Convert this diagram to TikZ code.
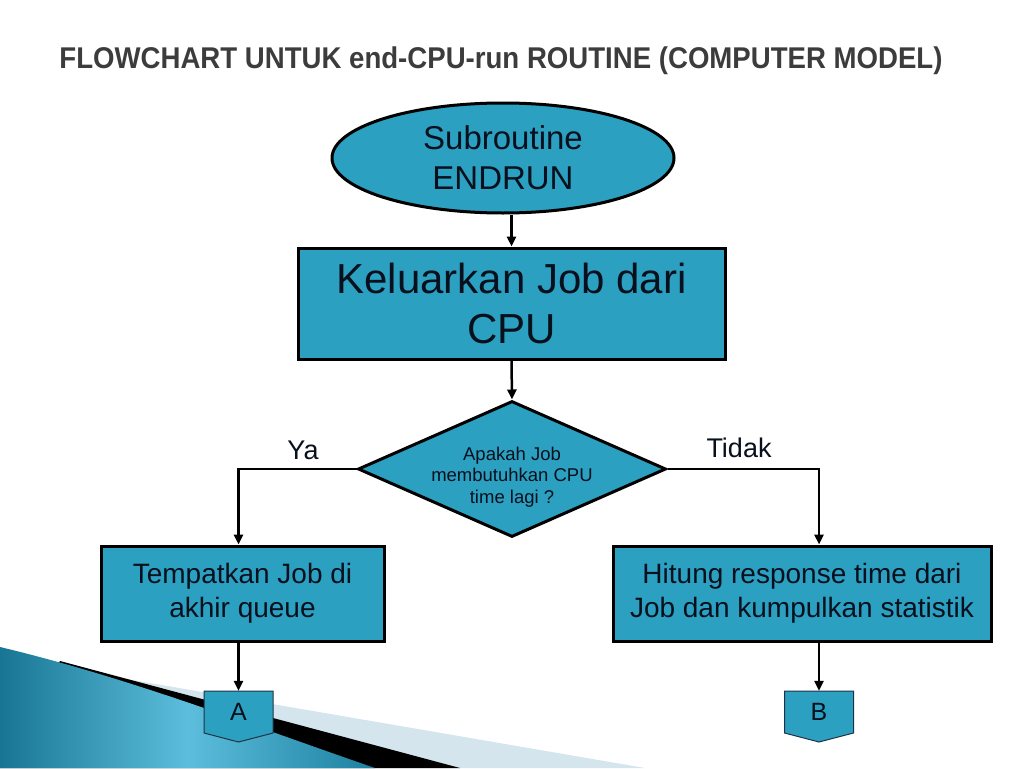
\documentclass[tikz,border=0pt]{standalone}
\usepackage{fontspec}
\setmainfont{Liberation Sans}
\usetikzlibrary{shapes.geometric,arrows.meta}
\definecolor{isian}{RGB}{44,160,192}
\definecolor{tinta}{RGB}{8,16,30}
\definecolor{abujudul}{RGB}{60,60,60}
\definecolor{birumuda}{RGB}{212,229,238}
\definecolor{tealgelap}{RGB}{24,118,148}
\definecolor{tealterang}{RGB}{92,190,220}
\definecolor{tealujung}{RGB}{30,128,160}
\definecolor{garistepi}{RGB}{30,50,70}
\begin{document}
\begin{tikzpicture}[x=1pt,y=-1pt,
    kotak/.style={draw,line width=3pt,fill=isian,text=tinta,inner sep=0pt,align=center},
    panah/.style={line width=2.5pt,-{Triangle[length=10pt,width=9pt]}},
    teks/.style={text=tinta,inner sep=0pt,align=center},
    konektor/.style={draw=garistepi,line width=1pt,fill=isian}]
  \useasboundingbox (0,0) rectangle (1024,768);
  % hiasan pojok kiri bawah
  \fill[birumuda] (80,671) -- (645,768) -- (0,768) -- cycle;
  \fill[black] (60,661) -- (460,768) -- (0,768) -- cycle;
  \shade[left color=tealgelap,right color=tealujung,middle color=tealterang]
    (0,647) .. controls (130,678) and (250,725) .. (375,768) -- (0,768) -- cycle;
  % judul
  \node[anchor=base,inner sep=0pt,text=abujudul,font=\bfseries\fontsize{30}{36}\selectfont] (judul) at (501,68)
    {\scalebox{0.92}[1]{FLOWCHART UNTUK end-CPU-run ROUTINE (COMPUTER MODEL)}};
  % bagan alir
  \node[kotak,ellipse,minimum width=342pt,minimum height=110pt,font=\fontsize{33}{40}\selectfont] (mulai) at (503,158) {Subroutine\\ENDRUN};
  \node[kotak,minimum width=427pt,minimum height=111pt,font=\fontsize{42}{50}\selectfont] (keluar) at (511.5,303.5) {Keluarkan Job dari\\CPU};
  \node[kotak,diamond,minimum width=308pt,minimum height=136pt] (tanya) at (512,469) {};
  \node[teks,font=\fontsize{18.5}{21.5}\selectfont] (isi) at (512,477) {Apakah Job\\membutuhkan CPU\\time lagi ?};
  \node[kotak,minimum width=283pt,minimum height=95pt,font=\fontsize{28}{34}\selectfont] (tempat) at (242.5,593.5) {Tempatkan Job di\\akhir queue};
  \node[kotak,minimum width=378pt,minimum height=95pt,font=\fontsize{28}{34}\selectfont] (hitung) at (802,593.5) {Hitung response time dari\\Job dan kumpulkan statistik};
  \foreach \nama/\px in {A/238.5,B/819}{
    \draw[konektor] (\px-34.5,691) -- (\px+34.5,691) -- (\px+34.5,733) -- (\px,742) -- (\px-34.5,733) -- cycle;
    \node[teks,minimum height=42pt,font=\fontsize{25}{30}\selectfont] (\nama) at (\px,712) {\nama};
  }
  \node[teks,anchor=base,font=\fontsize{27}{32}\selectfont] (ya) at (303,459) {Ya};
  \node[teks,anchor=base,font=\fontsize{27}{32}\selectfont] (tidak) at (739,457) {Tidak};
  % panah
  \draw[panah] (keluar.north |- mulai.south) -- (keluar.north);
  \draw[panah] (keluar.south) -- (tanya.north);
  \draw[panah] (tanya.west) -| (A |- tempat.north);
  \draw[panah] (tanya.east) -| (B |- hitung.north);
  \draw[panah] (A |- tempat.south) -- (A);
  \draw[panah] (B |- hitung.south) -- (B);
\end{tikzpicture}
\end{document}
